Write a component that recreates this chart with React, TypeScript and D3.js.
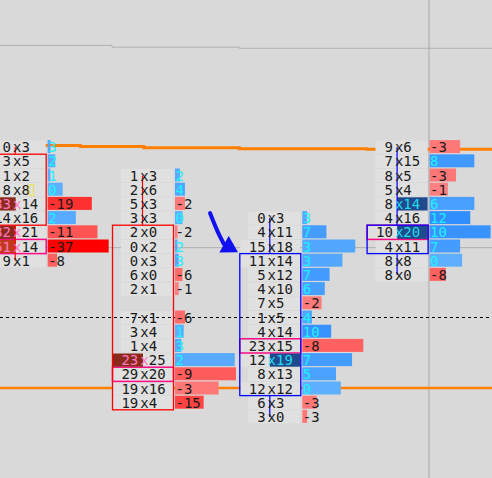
import React, { useEffect } from 'react';
import * as d3 from 'd3';

const W = 492, H = 478;

// price grid
const TICK = 0.25;
const TOP_PRICE = 4500.0;
const ROWS = 20;

// footprint bars (row 0 = TOP_PRICE, each row one tick lower)
const firstRow = [0, 2, 5, 0];
const bidVol: (number | null)[][] = [
  [0, 3, 1, 8, 33, 14, 32, 51, 9],
  [1, 2, 5, 3, 2, 0, 0, 6, 2, null, 7, 3, 1, 23, 29, 19, 19],
  [0, 4, 15, 11, 5, 4, 7, 1, 4, 23, 12, 8, 12, 6, 3],
  [9, 7, 8, 5, 8, 4, 10, 4, 8, 8],
];
const askVol: (number | null)[][] = [
  [3, 5, 2, 8, 14, 16, 21, 14, 1],
  [3, 6, 3, 3, 0, 2, 3, 0, 1, null, 1, 4, 4, 25, 20, 16, 4],
  [3, 11, 18, 14, 12, 10, 5, 5, 14, 15, 19, 13, 12, 3, 0],
  [6, 15, 5, 4, 14, 16, 20, 11, 8, 0],
];
const barOpen = [4499.75, 4498.5, 4495.75, 4498.25];
const barClose = [4498.75, 4495.5, 4498.0, 4498.5];
const barHigh = [4500.0, 4499.5, 4498.75, 4500.0];
const barLow = [4498.0, 4495.5, 4495.25, 4497.75];

// imbalance cells (absolute row index)
const bidImbalance = [[4, 6, 7], [15], [], []];
const strongImbalance = [[7], [], [], []];
const askImbalance = [[], [], [15], [4, 6]];

// overlays
const grayLineT = [-0.3, 1, 2, 4.3];
const grayLineV = [4501.79, 4501.76, 4501.74, 4501.74];
const vwapT = [-0.3, 0.75, 1.25, 2, 3, 4.3];
const vwapV = [4500.03, 4500.01, 4499.99, 4499.97, 4499.96, 4499.96];
const lowerOrange = 4495.76;
const lastPrice = 4497.0;
const crossT = 3.49;
const crossP = 4498.23;
const arrowT = [1.77, 1.83, 1.88, 1.99];
const arrowP = [4498.84, 4498.5, 4498.29, 4498.15];

const FONT = '"DejaVu Sans Mono", monospace';
const CH = 8.43;

const App: React.FC = () => {
  useEffect(() => {
    document.body.style.margin = '0';
  }, []);

  const xTime = d3.scaleLinear().domain([0, 1]).range([-15.3, 112]);
  const yScale = d3.scaleLinear()
    .domain([TOP_PRICE, TOP_PRICE - (ROWS - 1) * TICK])
    .range([147.1, 416.9]);
  const rowH = Math.abs(yScale(TOP_PRICE - TICK) - yScale(TOP_PRICE));
  const rowPrice = (r: number) => TOP_PRICE - r * TICK;

  const cellW = 61;
  const redScale = d3.scaleLinear<string>().domain([0, 30]).range(['#ff8484', '#ff0000']).clamp(true);
  const blueScale = d3.scaleLinear<string>().domain([0, 14]).range(['#5eb0ff', '#2a88ff']).clamp(true);

  const stepLine = (ts: number[], vs: number[]) =>
    d3.line<number>()
      .x((_, i) => xTime(ts[i]))
      .y((v) => yScale(v))
      .curve(d3.curveStepAfter)(vs) || '';

  const bars = bidVol.map((bids, k) => {
    const asks = askVol[k];
    const left = xTime(k);
    const cx = left + cellW / 2;
    const barX = left + 63;
    const vols = bids.map((b, i) => (b == null ? 0 : b + (asks[i] as number)));
    const wScale = d3.scaleLinear().domain([0, d3.max(vols) as number]).range([0, cellW]);
    const poc = vols.indexOf(d3.max(vols) as number);
    const rows = bids.map((b, i) => {
      if (b == null) return null;
      const a = asks[i] as number;
      const r = firstRow[k] + i;
      return { r, b, a, vol: b + a, delta: a - b, yc: yScale(rowPrice(r)) };
    }).filter(Boolean) as { r: number; b: number; a: number; vol: number; delta: number; yc: number }[];
    return { k, left, cx, barX, rows, wScale, pocRow: firstRow[k] + poc };
  });

  const arrowPts = arrowT.map((t, i) => [xTime(t), yScale(arrowP[i])] as [number, number]);
  const tip = arrowPts[arrowPts.length - 1];
  const base = arrowPts[arrowPts.length - 2];
  const dx = tip[0] - base[0], dy = tip[1] - base[1];
  const len = Math.hypot(dx, dy);
  const nx = -dy / len, ny = dx / len;
  const hw = 9.5;
  const headPath = `M${tip[0]},${tip[1]} L${base[0] + nx * hw},${base[1] + ny * hw} L${base[0] - nx * hw},${base[1] - ny * hw} Z`;
  const shaftPath = d3.line().curve(d3.curveBasis)(arrowPts.slice(0, 3)) || '';

  return (
    <svg width={W} height={H} style={{ display: 'block' }} fontFamily={FONT}>
      <rect x={0} y={0} width={W} height={H} fill="#d9d9d9" />

      {/* background lines */}
      <path d={stepLine(grayLineT, grayLineV)} fill="none" stroke="#b2b2b2" strokeWidth={1} />
      <line x1={0} x2={W} y1={yScale(crossP)} y2={yScale(crossP)} stroke="#b0b0b0" strokeWidth={1} />
      <line x1={xTime(crossT)} x2={xTime(crossT)} y1={0} y2={H} stroke="#a8a8a8" strokeWidth={1} />
      <path d={stepLine(vwapT, vwapV)} fill="none" stroke="#ff8000" strokeWidth={3} />
      <line x1={0} x2={W} y1={yScale(lowerOrange)} y2={yScale(lowerOrange)} stroke="#ff8000" strokeWidth={2.5} />

      {/* cell backgrounds */}
      {bars.map((bar) => bar.rows.map((row) => {
        const bidStart = bar.cx - 4.2 - String(row.b).length * CH;
        const x0 = Math.max(bar.left + 1, bidStart - 9);
        return (
          <rect key={`bg${bar.k}-${row.r}`} x={x0} y={row.yc - 6.6} width={bar.left + cellW - x0}
            height={13.2} fill="#e0e0e0" />
        );
      }))}

      {/* point of control */}
      {bars.map((bar) => {
        const yc = yScale(rowPrice(bar.pocRow));
        return (
          <rect key={`poc${bar.k}`} x={bar.left + 0.5} y={yc - rowH / 2} width={cellW} height={rowH}
            fill="none" stroke="#ff0a84" strokeWidth={1.5} />
        );
      })}

      {/* imbalance highlights */}
      {bars.map((bar) => bar.rows.map((row) => {
        const out: React.ReactNode[] = [];
        if (bidImbalance[bar.k].includes(row.r)) {
          out.push(<rect key={`bi${bar.k}-${row.r}`} x={bar.left + 1} y={row.yc - 6.6} width={cellW / 2 - 0.5}
            height={13.2} fill={strongImbalance[bar.k].includes(row.r) ? '#c23a1e' : '#8a2a1c'} />);
        }
        if (askImbalance[bar.k].includes(row.r)) {
          out.push(<rect key={`ai${bar.k}-${row.r}`} x={bar.cx} y={row.yc - 6.6} width={cellW / 2}
            height={13.2} fill="#1f4a8e" />);
        }
        return out;
      }))}

      {/* candles */}
      {bars.map((bar) => {
        const k = bar.k;
        const up = barClose[k] >= barOpen[k];
        const color = up ? '#0000ff' : '#ff0000';
        const topY = yScale(Math.max(barOpen[k], barClose[k])) - rowH / 2;
        const botY = yScale(Math.min(barOpen[k], barClose[k])) + rowH / 2;
        const hiY = yScale(barHigh[k]);
        const loY = yScale(barLow[k]);
        return (
          <g key={`c${k}`}>
            {hiY < topY && <line x1={bar.cx} x2={bar.cx} y1={hiY} y2={topY} stroke={color} strokeWidth={1.2} />}
            {loY > botY && <line x1={bar.cx} x2={bar.cx} y1={botY} y2={loY} stroke={color} strokeWidth={1.2} />}
            <rect x={bar.left + 0.5} y={topY} width={cellW} height={botY - topY}
              fill="none" stroke={color} strokeWidth={1.3} />
          </g>
        );
      })}

      {/* last price */}
      <line x1={0} x2={W} y1={yScale(lastPrice)} y2={yScale(lastPrice)} stroke="#000" strokeWidth={1}
        strokeDasharray="3,3" />

      {/* delta bars */}
      {bars.map((bar) => bar.rows.map((row) => (
        <rect key={`db${bar.k}-${row.r}`} x={bar.barX} y={row.yc - 7} width={Math.max(1.5, bar.wScale(row.vol))}
          height={13} fill={row.delta < 0 ? redScale(-row.delta) : blueScale(row.delta)} />
      )))}

      {/* texts */}
      {bars.map((bar) => bar.rows.map((row) => {
        const bi = bidImbalance[bar.k].includes(row.r);
        const ai = askImbalance[bar.k].includes(row.r);
        const xCol = bi ? '#ff78c0' : ai ? '#22dcea' : '#1a1a1a';
        const ty = row.yc + 5;
        return (
          <g key={`t${bar.k}-${row.r}`} fontSize={14}>
            <text x={bar.cx - 4.2} y={ty} textAnchor="end" fill={bi ? '#ff78c0' : '#1a1a1a'}>{row.b}</text>
            <text x={bar.cx - 2.2} y={ty} textAnchor="start">
              <tspan fill={xCol}>x</tspan>
              <tspan fill={ai ? '#22dcea' : '#1a1a1a'}>{row.a}</tspan>
            </text>
            <text x={bar.barX + 0.5} y={ty} fill={row.delta < 0 ? '#1a1a1a' : '#1ef0ff'}>
              {row.delta < 0 ? `-${-row.delta}` : row.delta}
            </text>
          </g>
        );
      }))}

      {/* marker */}
      <rect x={bars[0].cx + 14} y={yScale(rowPrice(3)) - 5} width={4.5} height={11}
        fill="none" stroke="#f0e040" strokeWidth={1} />

      {/* annotation arrow */}
      <path d={shaftPath} fill="none" stroke="#1010f0" strokeWidth={4} strokeLinecap="round" />
      <path d={headPath} fill="#1010f0" />
    </svg>
  );
};

export default App;
